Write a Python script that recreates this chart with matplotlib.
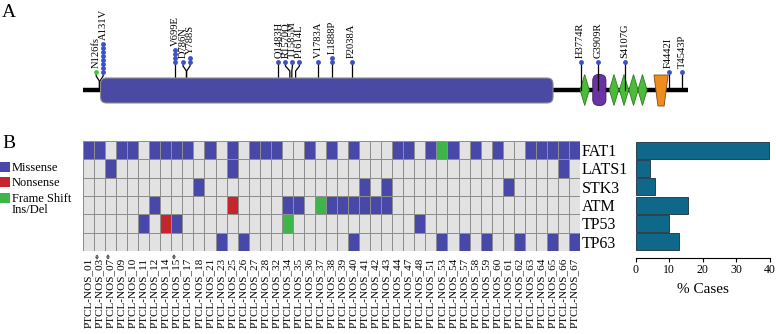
import numpy as np
import matplotlib
matplotlib.use("Agg")
import matplotlib.pyplot as plt
from matplotlib.colors import ListedColormap
from matplotlib.patches import FancyBboxPatch, Polygon, Rectangle
from matplotlib.transforms import ScaledTranslation

plt.rcParams["font.family"] = ["Liberation Serif", "DejaVu Serif"]

# ---- panel A: FAT1 protein with mutations
protein_len = 4588
cadherin_span = (135, 3565)
egf_centers = [3805, 4027, 4103, 4175, 4243]
lamg_span = (3866, 3966)
tm_span = (4330, 4437)

mut_pos = [126, 131, 699, 786, 788, 1483, 1570, 1585, 1614, 1783, 1888, 2038,
           3774, 3909, 4107, 4442, 4543]
mut_label = ["N126fs", "A131V", "V699E", "D786N", "Y788S", "Q1483H", "R1570Q",
             "T1585M", "P1614L", "V1783A", "L1888P", "P2038A", "H3774R",
             "G3909R", "S4107G", "F4442I", "T4543P"]
mut_count = [1, 8, 4, 1, 2, 1, 1, 1, 1, 1, 2, 1, 1, 1, 1, 1, 1]
mut_type = ["fs"] + ["mis"] * 16

# ---- panel B: oncoprint
samples = ["01", "03", "07", "09", "10", "11", "12", "14", "15", "17", "18",
           "21", "23", "25", "26", "27", "28", "32", "34", "35", "36", "37",
           "38", "39", "40", "41", "42", "43", "44", "47", "48", "51", "53",
           "54", "57", "58", "59", "60", "61", "62", "63", "64", "65", "66", "67"]
starred = ["03", "07", "15"]
genes = ["FAT1", "LATS1", "STK3", "ATM", "TP53", "TP63"]
# M = missense, N = nonsense, F = frame shift ins/del, . = none
calls = [
    "MM.MM.MMMM.M.M.MMM..M.M.M...MM.MFM.M.M..MMMMM",
    "..M..........M.............................M.",
    "..........M..............M.M..........M......",
    "......M......N....MM.FMMMMMM.................",
    ".....M.NM.........F...........M..............",
    "............M.M.........M.......M.M.M..M..M.M",
]
pct_cases = [39.7, 4.3, 5.7, 15.7, 10.0, 12.9]

blue = "#4848a8"
red = "#c4262b"
green = "#3db54a"
cell_bg = "#e2e2e2"
teal = "#0f6789"

W, H = 776, 334
fig = plt.figure(figsize=(W / 100, H / 100), dpi=100)


def box(x0, y0, x1, y1):
    return [x0 / W, 1 - y1 / H, (x1 - x0) / W, (y1 - y0) / H]


# ---------------- A
axA = fig.add_axes(box(82.7, 0, 688, 125))
axA.set_xlim(0, protein_len)
axA.set_ylim(-35, 90)
axA.axis("off")
px_per_aa = (688 - 82.7) / protein_len

axA.plot([0, protein_len], [0, 0], color="black", lw=3.2,
         solid_capstyle="butt", zorder=1)
axA.add_patch(FancyBboxPatch(
    (cadherin_span[0], -13), cadherin_span[1] - cadherin_span[0], 25,
    boxstyle=f"round,pad=0,rounding_size={6 / px_per_aa}",
    mutation_aspect=px_per_aa, fc="#4a4aa4", ec="#8c8c8c", lw=0.8, zorder=3))
axA.add_patch(FancyBboxPatch(
    (lamg_span[0], -15.5), lamg_span[1] - lamg_span[0], 31,
    boxstyle=f"round,pad=0,rounding_size={6 / px_per_aa}",
    mutation_aspect=px_per_aa, fc="#6a32a2", ec="#3c1c60", lw=0.6, zorder=2))
hw = 35
for c in egf_centers:
    axA.add_patch(Polygon([(c - hw, 0), (c, 15.5), (c + hw, 0), (c, -15.5)],
                          fc="#4cbb3a", ec="#2d7a22", lw=0.6, zorder=2))
inset = (tm_span[1] - tm_span[0]) * 0.28
axA.add_patch(Polygon([(tm_span[0], 15), (tm_span[1], 15),
                       (tm_span[1] - inset, -16), (tm_span[0] + inset, -16)],
                      fc="#f08c1e", ec="#7a4a10", lw=0.6, zorder=2))


def covered(p):
    if cadherin_span[0] < p < cadherin_span[1]:
        return True
    if lamg_span[0] <= p <= lamg_span[1] or tm_span[0] <= p <= tm_span[1]:
        return True
    return any(abs(p - c) <= hw for c in egf_centers)


# spread crowded lollipops apart
gap = 7.0 / px_per_aa
disp = np.array(mut_pos, float)
for _ in range(200):
    for i in range(1, len(disp)):
        d = disp[i] - disp[i - 1]
        if d < gap:
            disp[i - 1] -= (gap - d) / 2
            disp[i] += (gap - d) / 2

for p, d, lab, n, t in zip(mut_pos, disp, mut_label, mut_count, mut_type):
    base = 28 if covered(p) else 18
    axA.plot([p, p, d, d], [0, base - 9, base - 4, base], color="black",
             lw=0.9, zorder=2.5)
    ys = base + 4 * np.arange(n)
    col = "#3fcc3f" if t == "fs" else "#3d52c4"
    axA.plot([d] * n, ys, "o", ms=3.5, color=col, mew=0, zorder=4,
             clip_on=False)
    axA.text(d, ys[-1] + 3.5, lab, rotation=90, ha="center", va="bottom",
             fontsize=7.6, zorder=5)

fig.text(2 / W, 1 - 4 / H, "A", va="top", ha="left", fontsize=14)
fig.text(2 / W, 1 - 135 / H, "B", va="top", ha="left", fontsize=14)

# ---------------- B grid
code = {".": 0, "M": 1, "N": 2, "F": 3}
mat = np.array([[code[ch] for ch in s] for s in calls])
axG = fig.add_axes(box(83, 141, 580, 251))
axG.pcolormesh(np.arange(len(samples) + 1) - 0.5, np.arange(len(genes) + 1) - 0.5,
               mat, cmap=ListedColormap([cell_bg, blue, red, green]),
               vmin=-0.5, vmax=3.5, edgecolors="#8e8e8e", linewidth=0.7)
axG.set_xlim(-0.5, len(samples) - 0.5)
axG.set_ylim(len(genes) - 0.5, -0.5)
axG.set_xticks(range(len(samples)))
lab_fs = 8
axG.set_xticklabels([f"PTCL-NOS_{s}" + ("*" if s in starred else "")
                     for s in samples], rotation=90, fontsize=lab_fs)
axG.tick_params(axis="x", length=0, pad=5)
# starred labels: keep the name aligned, let the asterisk stick out above
for s, tl in zip(samples, axG.get_xticklabels()):
    if s in starred:
        tl.set_transform(tl.get_transform() +
                         ScaledTranslation(0, 0.5 * lab_fs / 72, fig.dpi_scale_trans))
axG.yaxis.tick_right()
axG.set_yticks(range(len(genes)))
axG.set_yticklabels(genes, fontsize=11.5)
axG.tick_params(axis="y", length=0, pad=1.5)
for sp in axG.spines.values():
    sp.set_visible(False)

# legend
legend_items = [("Missense", blue), ("Nonsense", red),
                ("Frame Shift\nIns/Del", green)]
for i, (lab, col) in enumerate(legend_items):
    top = 161.7 + 15.7 * i
    fig.add_artist(Rectangle((0, 1 - (top + 10) / H), 10 / W, 10 / H,
                             transform=fig.transFigure, fc=col, ec="none"))
    fig.text(11.5 / W, 1 - top / H, lab, va="top", ha="left", fontsize=9,
             linespacing=0.85)

# ---------------- B bars
axB = fig.add_axes(box(635.7, 141, 770, 251))
axB.barh(range(len(genes)), pct_cases, height=0.94, color=teal,
         edgecolor="#1b2f3a", lw=0.6)
axB.set_xlim(0, 40)
axB.set_ylim(len(genes) - 0.5, -0.5)
axB.set_yticks([])
for k in ("left", "top", "right"):
    axB.spines[k].set_visible(False)
axB.spines["bottom"].set_position(("outward", 5))
axB.set_xticks([0, 10, 20, 30, 40])
axB.tick_params(axis="x", labelsize=8.5, length=3, width=0.8, pad=1.5)
axB.set_xlabel("% Cases", fontsize=11, labelpad=5)

fig.savefig("out.png", dpi=100)
